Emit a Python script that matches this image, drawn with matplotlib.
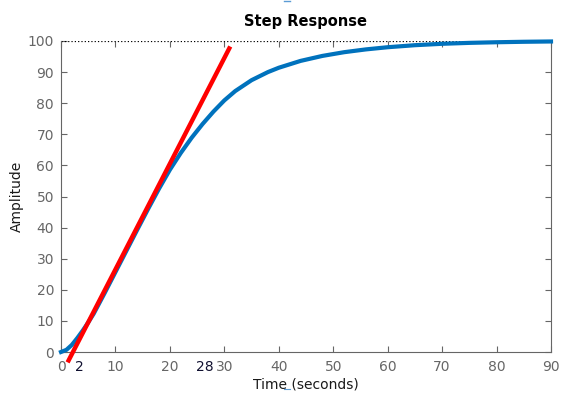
import numpy as np
import matplotlib
matplotlib.use('Agg')
import matplotlib.pyplot as plt
from matplotlib.lines import Line2D

# step response
t = [0, 1, 2, 3, 4, 5, 6, 8, 10, 12, 14, 16, 18, 20, 22, 24, 26, 28, 30, 32,
     35, 38, 40, 44, 48, 52, 56, 60, 65, 70, 75, 80, 85, 90]
y = [0, 0.7, 2.3, 4.5, 6.9, 9.5, 12.3, 18.9, 25.7, 32.5, 39.3, 46.0, 52.5,
     58.6, 64.0, 68.9, 73.3, 77.3, 80.9, 83.9, 87.4, 90.0, 91.4, 93.6, 95.2,
     96.4, 97.3, 98.0, 98.65, 99.1, 99.4, 99.6, 99.75, 99.85]

# tangent line end points
tan_t = [1.4, 30.9]
tan_y = [-2.7, 97.6]

final_value = 100
xticks = list(range(0, 91, 10))
yticks = list(range(0, 101, 10))
marks = [(3.3, '2'), (26.5, '28')]

grey = '#666666'
plt.rcParams['font.family'] = 'DejaVu Sans'

fig = plt.figure(figsize=(5.75, 3.98), dpi=100)
ax = fig.add_axes([61 / 575, 46 / 398, 490 / 575, 311 / 398])

ax.plot(t, y, c='#0072BD', lw=3.0, clip_on=False, zorder=3)
ax.plot(tan_t, tan_y, c='#FF0000', lw=3.2, clip_on=False, zorder=4)
ax.axhline(final_value, c='k', ls=':', lw=0.9, zorder=2)

ax.set_xlim(0, 90)
ax.set_ylim(0, 100)
ax.set_xticks(xticks)
ax.set_yticks(yticks)
ax.tick_params(direction='in', length=4, width=0.8, colors=grey,
               labelsize=10, top=True, right=True)
ax.tick_params(axis='x', pad=6)
ax.tick_params(axis='y', pad=5)
for s in ax.spines.values():
    s.set_color(grey)
    s.set_linewidth(0.8)
ax.spines['top'].set_visible(False)

ax.set_xlabel('Time (seconds)', fontsize=10, labelpad=2, color='#1a1a1a')
ax.set_ylabel('Amplitude', fontsize=10, labelpad=3, color='#1a1a1a')
ax.set_title('Step Response', fontsize=10.5, fontweight='bold', pad=11)

for xm, txt in marks:
    ax.text(xm, -2.5, txt, ha='center', va='top', fontsize=10, color='#101030')

# small blue marks
fig.add_artist(Line2D([284 / 575, 290 / 575], [397.5 / 398, 397.5 / 398],
                      c='#5b9bd5', lw=1))
fig.add_artist(Line2D([284 / 575, 290 / 575], [9.5 / 398, 9.5 / 398],
                      c='#5b9bd5', lw=0.8))

fig.savefig('out.png', dpi=100)
